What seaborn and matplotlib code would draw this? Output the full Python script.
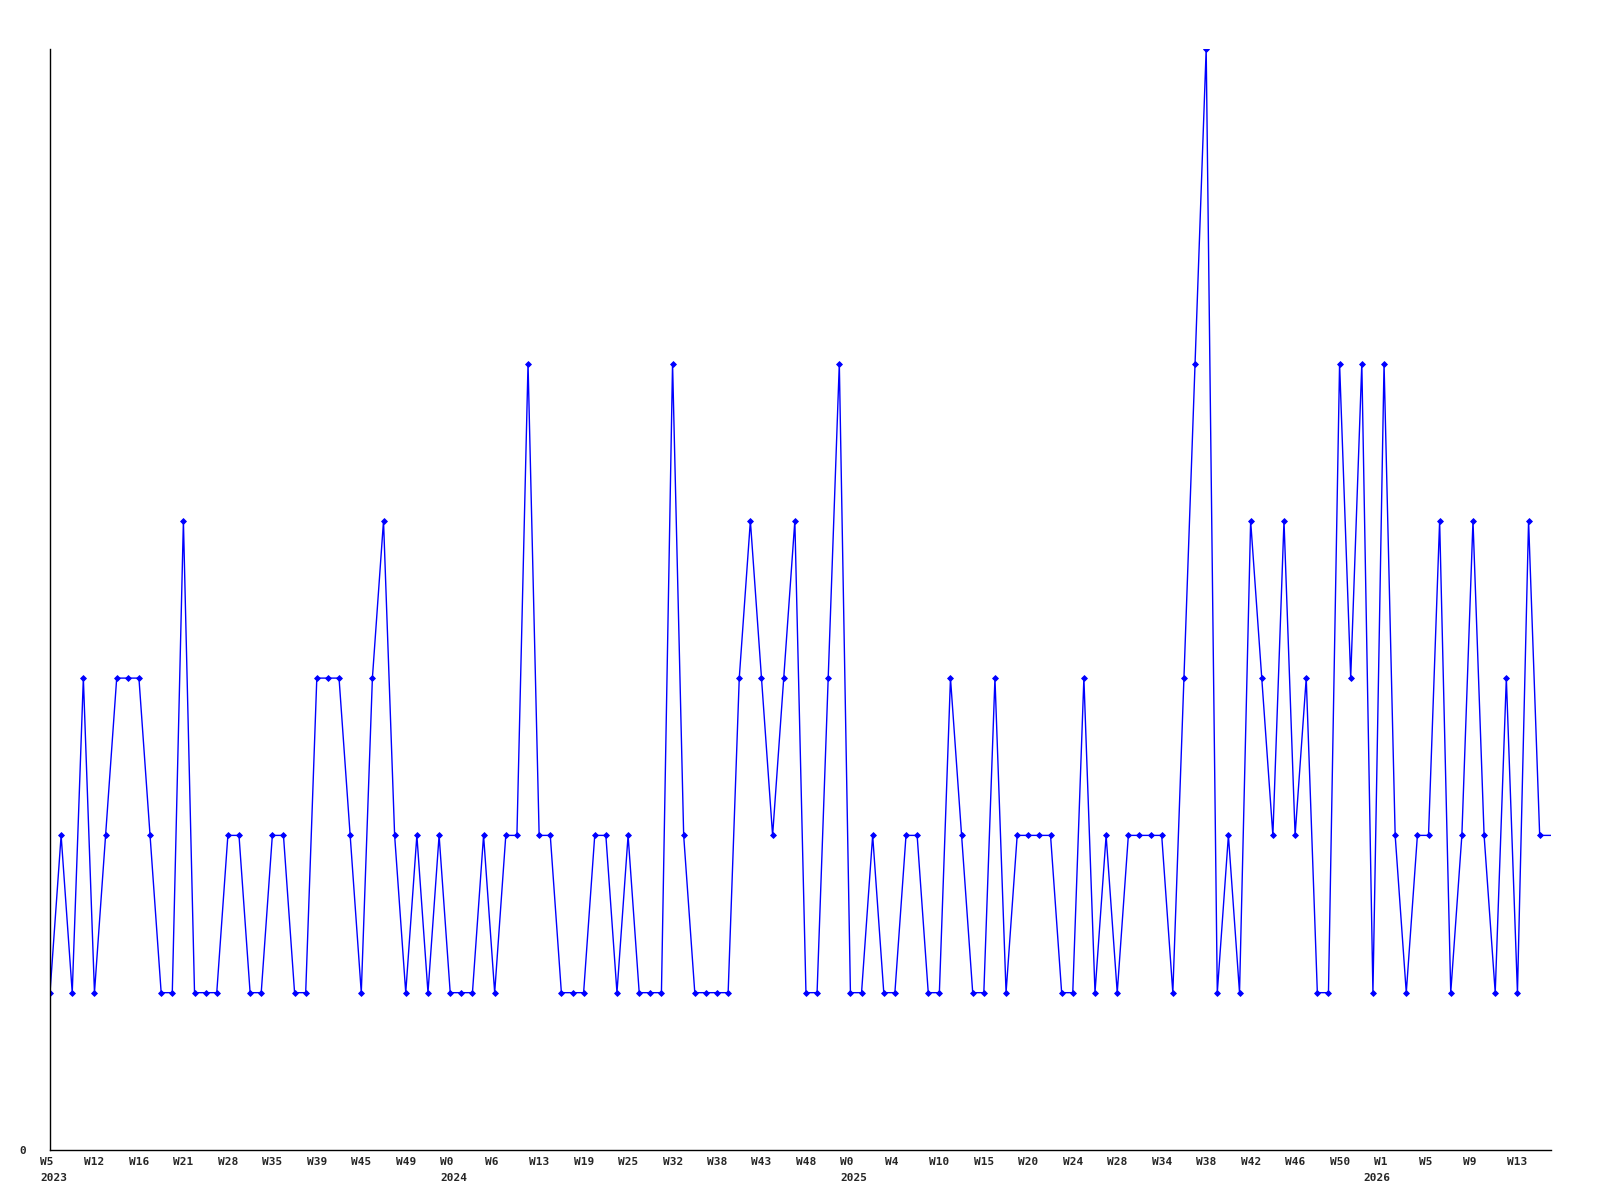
import numpy as np
import pandas as pd
import seaborn as sns
import matplotlib.pyplot as plt
from matplotlib.transforms import ScaledTranslation

# weekly counts (last point has no marker)
counts = [1, 2, 1, 3, 1, 2, 3, 3, 3, 2, 1, 1, 4, 1, 1, 1, 2, 2, 1, 1,
          2, 2, 1, 1, 3, 3, 3, 2, 1, 3, 4, 2, 1, 2, 1, 2, 1, 1, 1, 2,
          1, 2, 2, 5, 2, 2, 1, 1, 1, 2, 2, 1, 2, 1, 1, 1, 5, 2, 1, 1,
          1, 1, 3, 4, 3, 2, 3, 4, 1, 1, 3, 5, 1, 1, 2, 1, 1, 2, 2, 1,
          1, 3, 2, 1, 1, 3, 1, 2, 2, 2, 2, 1, 1, 3, 1, 2, 1, 2, 2, 2,
          2, 1, 3, 5, 7, 1, 2, 1, 4, 3, 2, 4, 2, 3, 1, 1, 5, 3, 5, 1,
          5, 2, 1, 2, 2, 4, 1, 2, 4, 2, 1, 3, 1, 4, 2, 2]

# one week label every 4th point
week_labels = ["W5", "W12", "W16", "W21", "W28", "W35", "W39", "W45", "W49",
               "W0", "W6", "W13", "W19", "W25", "W32", "W38", "W43", "W48",
               "W0", "W4", "W10", "W15", "W20", "W24", "W28", "W34", "W38",
               "W42", "W46", "W50", "W1", "W5", "W9", "W13"]
# year label -> point where it starts
year_points = [0, 36, 72, 119]
years = ["2023", "2024", "2025", "2026"]

df = pd.DataFrame({"idx": np.arange(len(counts)), "count": counts})

sns.set_style("white")
plt.rcParams["font.family"] = ["DejaVu Sans Mono", "DejaVu Sans"]

fig = plt.figure(figsize=(16, 12), dpi=100)
ax = fig.add_axes([0.03125, 0.0417, 0.938, 0.9175])

sns.lineplot(data=df, x="idx", y="count", ax=ax, color="#0000ff",
             linewidth=1.0, marker="D", markersize=3, markeredgewidth=0.6,
             markeredgecolor="#0000ff", markevery=list(range(len(counts) - 1)))

ax.set_xlim(0, len(counts) - 1)
ax.set_ylim(0, 7)

# x labels: left aligned, starting a bit left of their point
ticks = np.arange(0, len(counts) - 1, 4)[:len(week_labels)]
dpi = fig.dpi
trans_w = ax.get_xaxis_transform() + ScaledTranslation(-10 / dpi, -7 / dpi, fig.dpi_scale_trans)
trans_y = ax.get_xaxis_transform() + ScaledTranslation(-10 / dpi, -23 / dpi, fig.dpi_scale_trans)
for pos, w in zip(ticks, week_labels):
    ax.text(pos, 0, w, transform=trans_w, ha="left", va="top", fontsize=8,
            fontweight="bold", clip_on=False)
for pos, y in zip(year_points, years):
    ax.text(pos, 0, y, transform=trans_y, ha="left", va="top", fontsize=8,
            fontweight="bold", clip_on=False)
ax.set_xticks([])

ax.set_yticks([0])
ax.set_yticklabels(["0"], fontsize=8, fontweight="bold")
ax.tick_params(axis="y", length=0, pad=17)

ax.set_xlabel("")
ax.set_ylabel("")
for side in ["top", "right"]:
    ax.spines[side].set_visible(False)
for side in ["left", "bottom"]:
    ax.spines[side].set_color("black")
    ax.spines[side].set_linewidth(1.0)

fig.savefig("out.png", dpi=100, facecolor="white")
